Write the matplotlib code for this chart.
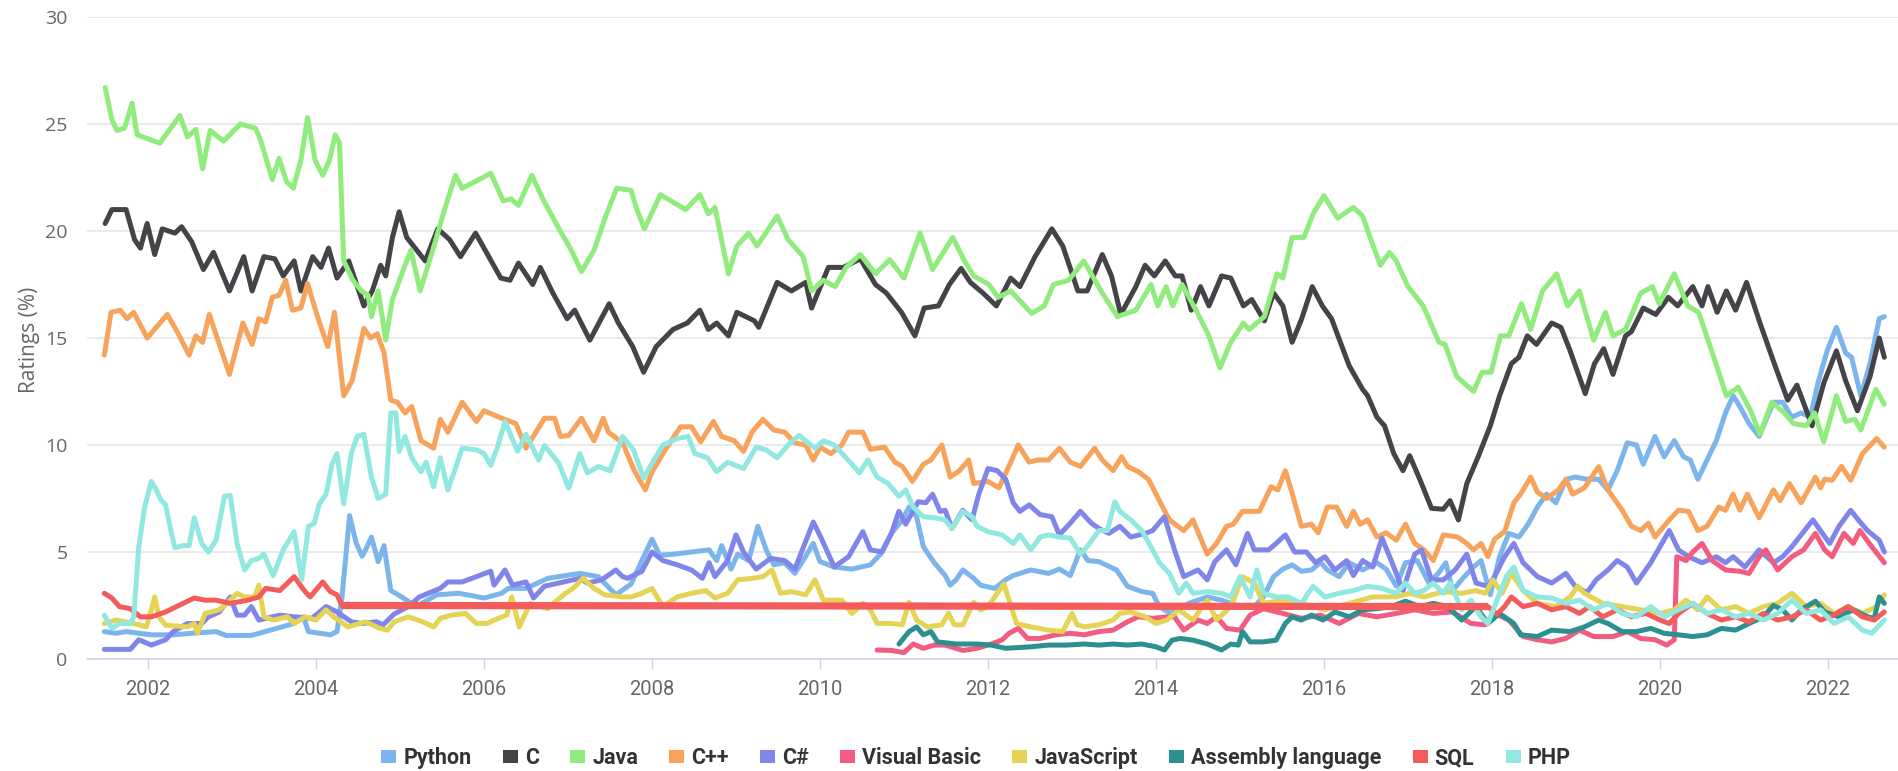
import matplotlib
matplotlib.use("Agg")
import matplotlib.pyplot as plt
from matplotlib import font_manager as fm
from matplotlib.patches import Patch
from matplotlib.textpath import TextPath

# TIOBE-style ratings (%) (decimal years)
PY_T = [2001.48, 2001.62, 2001.74, 2002.04, 2002.3, 2002.51, 2002.81, 2002.93, 2003.23, 2003.53, 2003.74, 2003.85,
        2003.91, 2004.17, 2004.25, 2004.31, 2004.4, 2004.48, 2004.55, 2004.59, 2004.66, 2004.74, 2004.81, 2004.89,
        2005.02, 2005.19, 2005.44, 2005.7, 2006.0, 2006.21, 2006.29, 2006.5, 2006.76, 2006.97, 2007.14, 2007.36,
        2007.57, 2007.75, 2007.88, 2008.0, 2008.09, 2008.26, 2008.47, 2008.68, 2008.77, 2008.83, 2008.94, 2009.02,
        2009.15, 2009.26, 2009.36, 2009.45, 2009.58, 2009.7, 2009.83, 2009.92, 2010.0, 2010.17, 2010.38, 2010.6,
        2010.72, 2010.85, 2010.98, 2011.06, 2011.15, 2011.23, 2011.36, 2011.49, 2011.55, 2011.62, 2011.7, 2011.83,
        2011.91, 2012.08, 2012.21, 2012.3, 2012.51, 2012.72, 2012.85, 2012.98, 2013.1, 2013.19, 2013.32, 2013.53,
        2013.66, 2013.83, 2013.96, 2014.04, 2014.17, 2014.39, 2014.61, 2014.78, 2015.0, 2015.17, 2015.28, 2015.4,
        2015.51, 2015.62, 2015.73, 2015.85, 2015.96, 2016.04, 2016.18, 2016.3, 2016.46, 2016.63, 2016.74, 2016.86,
        2016.97, 2017.11, 2017.25, 2017.36, 2017.45, 2017.53, 2017.67, 2017.78, 2017.87, 2017.98, 2018.09, 2018.2,
        2018.32, 2018.43, 2018.54, 2018.65, 2018.76, 2018.88, 2018.99, 2019.13, 2019.27, 2019.38, 2019.49, 2019.61,
        2019.72, 2019.8, 2019.94, 2020.05, 2020.17, 2020.28, 2020.36, 2020.45, 2020.56, 2020.67, 2020.78, 2020.87,
        2020.95, 2021.06, 2021.18, 2021.35, 2021.46, 2021.57, 2021.68, 2021.79, 2021.88, 2021.99, 2022.1, 2022.21,
        2022.28, 2022.39, 2022.5, 2022.61, 2022.67]
PY_V = [1.28, 1.2, 1.28, 1.13, 1.13, 1.2, 1.28, 1.1, 1.1, 1.43, 1.66, 1.97,
        1.28, 1.13, 1.28, 2.9, 6.7, 5.4, 4.8, 5.1, 5.7, 4.55, 5.3, 3.2,
        2.9, 2.45, 3.0, 3.07, 2.85, 3.07, 3.3, 3.3, 3.77, 3.9, 4.0, 3.85,
        3.0, 3.5, 4.6, 5.6, 4.85, 4.9, 5.0, 5.1, 4.6, 5.3, 4.2, 4.9,
        4.6, 6.2, 5.1, 4.4, 4.5, 4.0, 4.8, 5.4, 4.55, 4.3, 4.2, 4.4,
        4.9, 5.87, 6.5, 7.1, 6.65, 5.25, 4.5, 3.9, 3.45, 3.7, 4.16, 3.77,
        3.45, 3.3, 3.7, 3.9, 4.16, 4.0, 4.2, 3.9, 5.1, 4.6, 4.55, 4.16,
        3.4, 3.15, 3.07, 2.45, 2.13, 2.6, 2.9, 2.75, 2.45, 2.45, 2.9, 3.85,
        4.2, 4.4, 4.1, 4.16, 4.5, 4.16, 3.85, 4.5, 4.16, 4.5, 4.2, 3.4,
        4.5, 4.6, 3.55, 4.0, 4.5, 3.2, 3.85, 4.3, 4.6, 3.0, 4.78, 5.87,
        5.7, 6.3, 7.1, 7.7, 7.3, 8.4, 8.5, 8.4, 8.4, 7.9, 8.8, 10.1,
        10.0, 9.1, 10.4, 9.45, 10.2, 9.45, 9.3, 8.4, 9.3, 10.2, 11.5, 12.3,
        11.8, 11.0, 10.4, 12.0, 12.0, 11.3, 11.5, 11.3, 12.9, 14.4, 15.5, 14.3,
        14.1, 12.3, 13.8, 15.9, 16.0]

C_T = [2001.49, 2001.57, 2001.74, 2001.84, 2001.91, 2001.99, 2002.08, 2002.17, 2002.32, 2002.4, 2002.52, 2002.66,
       2002.78, 2002.97, 2003.14, 2003.24, 2003.38, 2003.51, 2003.61, 2003.74, 2003.82, 2003.96, 2004.06, 2004.15,
       2004.25, 2004.39, 2004.57, 2004.67, 2004.77, 2004.83, 2004.91, 2004.99, 2005.08, 2005.3, 2005.45, 2005.59,
       2005.72, 2005.9, 2006.1, 2006.2, 2006.31, 2006.41, 2006.58, 2006.67, 2006.82, 2006.99, 2007.08, 2007.26,
       2007.49, 2007.6, 2007.77, 2007.9, 2008.05, 2008.25, 2008.42, 2008.57, 2008.67, 2008.77, 2008.91, 2009.01,
       2009.22, 2009.27, 2009.49, 2009.66, 2009.83, 2009.9, 2010.1, 2010.28, 2010.48, 2010.66, 2010.79, 2010.97,
       2011.13, 2011.24, 2011.41, 2011.54, 2011.68, 2011.79, 2011.94, 2012.1, 2012.27, 2012.38, 2012.56, 2012.76,
       2012.89, 2013.07, 2013.18, 2013.36, 2013.47, 2013.58, 2013.76, 2013.87, 2013.98, 2014.11, 2014.23, 2014.31,
       2014.42, 2014.53, 2014.63, 2014.78, 2014.89, 2015.04, 2015.14, 2015.29, 2015.4, 2015.51, 2015.62, 2015.73,
       2015.86, 2015.98, 2016.09, 2016.3, 2016.46, 2016.52, 2016.63, 2016.72, 2016.83, 2016.94, 2017.02, 2017.14,
       2017.28, 2017.42, 2017.5, 2017.6, 2017.7, 2017.84, 2017.98, 2018.09, 2018.23, 2018.32, 2018.42, 2018.53,
       2018.71, 2018.82, 2018.93, 2019.11, 2019.22, 2019.33, 2019.44, 2019.59, 2019.66, 2019.8, 2019.95, 2020.1,
       2020.21, 2020.39, 2020.5, 2020.57, 2020.68, 2020.79, 2020.9, 2021.03, 2021.19, 2021.37, 2021.52, 2021.63,
       2021.81, 2021.95, 2022.1, 2022.21, 2022.35, 2022.5, 2022.61, 2022.67]
C_V = [20.35, 21.0, 21.0, 19.6, 19.2, 20.35, 18.9, 20.1, 19.9, 20.2, 19.5, 18.2,
       19.0, 17.2, 18.8, 17.2, 18.8, 18.7, 17.9, 18.6, 17.2, 18.8, 18.3, 19.2,
       17.8, 18.6, 16.5, 17.2, 18.4, 17.9, 19.7, 20.9, 19.7, 18.6, 20.1, 19.6,
       18.8, 19.9, 18.5, 17.8, 17.7, 18.5, 17.5, 18.3, 17.1, 15.9, 16.3, 14.9,
       16.6, 15.7, 14.6, 13.4, 14.6, 15.4, 15.7, 16.3, 15.4, 15.7, 15.1, 16.2,
       15.8, 15.5, 17.6, 17.2, 17.6, 16.4, 18.3, 18.3, 18.7, 17.5, 17.1, 16.2,
       15.1, 16.4, 16.5, 17.5, 18.25, 17.6, 17.1, 16.5, 17.8, 17.4, 18.8, 20.1,
       19.3, 17.2, 17.2, 18.9, 17.9, 16.1, 17.4, 18.4, 17.9, 18.6, 17.9, 17.9,
       16.3, 17.4, 16.5, 17.9, 17.8, 16.5, 16.8, 15.8, 17.1, 16.5, 14.8, 15.85,
       17.4, 16.5, 15.9, 13.7, 12.6, 12.3, 11.3, 10.9, 9.6, 8.8, 9.5, 8.4,
       7.04, 7.0, 7.4, 6.5, 8.2, 9.5, 10.9, 12.3, 13.8, 14.1, 15.1, 14.7,
       15.7, 15.5, 14.4, 12.4, 13.8, 14.5, 13.3, 15.1, 15.3, 16.4, 16.1, 16.9,
       16.5, 17.4, 16.5, 17.4, 16.2, 17.2, 16.3, 17.6, 15.7, 13.7, 12.1, 12.8,
       10.9, 12.9, 14.4, 13.0, 11.6, 13.2, 15.0, 14.1]

JAVA_T = [2001.49, 2001.57, 2001.63, 2001.72, 2001.81, 2001.87, 2002.14, 2002.38, 2002.47, 2002.57, 2002.65, 2002.74,
          2002.9, 2003.0, 2003.1, 2003.28, 2003.34, 2003.48, 2003.56, 2003.65, 2003.73, 2003.82, 2003.9, 2003.99,
          2004.08, 2004.16, 2004.23, 2004.28, 2004.33, 2004.44, 2004.54, 2004.62, 2004.66, 2004.74, 2004.83, 2004.91,
          2005.05, 2005.13, 2005.24, 2005.39, 2005.53, 2005.66, 2005.74, 2005.94, 2006.08, 2006.23, 2006.32, 2006.41,
          2006.57, 2006.7, 2006.9, 2007.04, 2007.16, 2007.31, 2007.45, 2007.58, 2007.75, 2007.82, 2007.91, 2008.1,
          2008.4, 2008.57, 2008.67, 2008.75, 2008.91, 2009.01, 2009.15, 2009.25, 2009.49, 2009.62, 2009.8, 2009.9,
          2010.04, 2010.18, 2010.31, 2010.48, 2010.66, 2010.83, 2011.0, 2011.19, 2011.34, 2011.58, 2011.72, 2011.83,
          2012.01, 2012.12, 2012.27, 2012.52, 2012.67, 2012.78, 2012.96, 2013.14, 2013.36, 2013.54, 2013.76, 2013.94,
          2014.02, 2014.12, 2014.2, 2014.31, 2014.49, 2014.63, 2014.76, 2014.89, 2015.04, 2015.11, 2015.29, 2015.44,
          2015.51, 2015.62, 2015.76, 2015.87, 2016.0, 2016.16, 2016.35, 2016.46, 2016.53, 2016.67, 2016.78, 2016.86,
          2017.0, 2017.18, 2017.37, 2017.44, 2017.58, 2017.78, 2017.88, 2017.99, 2018.1, 2018.2, 2018.35, 2018.46,
          2018.6, 2018.77, 2018.9, 2019.04, 2019.21, 2019.35, 2019.44, 2019.59, 2019.77, 2019.91, 2019.99, 2020.17,
          2020.33, 2020.46, 2020.64, 2020.79, 2020.93, 2021.08, 2021.19, 2021.33, 2021.48, 2021.59, 2021.74, 2021.84,
          2021.95, 2022.1, 2022.21, 2022.32, 2022.39, 2022.57, 2022.67]
JAVA_V = [26.7, 25.2, 24.7, 24.8, 25.97, 24.5, 24.1, 25.4, 24.4, 24.75, 22.9, 24.7,
          24.2, 24.6, 25.0, 24.8, 24.25, 22.4, 23.4, 22.3, 22.0, 23.3, 25.3, 23.3,
          22.6, 23.3, 24.5, 24.1, 18.6, 17.7, 17.2, 17.0, 16.0, 17.2, 14.9, 16.8,
          18.3, 19.1, 17.2, 19.1, 21.0, 22.6, 22.0, 22.4, 22.7, 21.4, 21.5, 21.2,
          22.6, 21.5, 20.05, 19.1, 18.1, 19.1, 20.7, 22.0, 21.9, 21.0, 20.1, 21.7,
          21.0, 21.7, 20.8, 21.1, 18.0, 19.3, 19.9, 19.3, 20.7, 19.6, 18.8, 17.2,
          17.7, 17.4, 18.3, 18.9, 18.0, 18.66, 17.8, 19.9, 18.2, 19.7, 18.6, 17.9,
          17.5, 16.9, 17.2, 16.15, 16.5, 17.5, 17.7, 18.6, 17.1, 16.0, 16.3, 17.5,
          16.5, 17.4, 16.5, 17.5, 16.2, 15.1, 13.6, 14.8, 15.7, 15.4, 16.0, 18.0,
          17.8, 19.7, 19.7, 20.8, 21.65, 20.6, 21.1, 20.7, 19.9, 18.4, 19.0, 18.6,
          17.4, 16.5, 14.8, 14.7, 13.2, 12.5, 13.4, 13.4, 15.1, 15.1, 16.6, 15.4,
          17.2, 18.0, 16.5, 17.2, 14.9, 16.2, 15.1, 15.4, 17.1, 17.4, 16.6, 18.0,
          16.5, 16.2, 14.1, 12.3, 12.7, 11.6, 10.5, 12.0, 11.5, 11.0, 10.9, 11.5,
          10.15, 12.3, 11.1, 11.2, 10.7, 12.6, 11.9]

CPP_T = [2001.48, 2001.56, 2001.67, 2001.75, 2001.83, 2001.99, 2002.23, 2002.36, 2002.49, 2002.57, 2002.65, 2002.73,
         2002.97, 2003.13, 2003.24, 2003.32, 2003.4, 2003.48, 2003.56, 2003.64, 2003.72, 2003.82, 2003.9, 2004.01,
         2004.14, 2004.22, 2004.33, 2004.43, 2004.57, 2004.65, 2004.73, 2004.81, 2004.89, 2004.97, 2005.06, 2005.14,
         2005.25, 2005.4, 2005.48, 2005.57, 2005.74, 2005.91, 2006.0, 2006.21, 2006.38, 2006.5, 2006.72, 2006.84,
         2006.91, 2007.01, 2007.16, 2007.31, 2007.42, 2007.48, 2007.65, 2007.79, 2007.92, 2008.0, 2008.17, 2008.34,
         2008.47, 2008.58, 2008.73, 2008.83, 2008.98, 2009.09, 2009.19, 2009.32, 2009.45, 2009.58, 2009.7, 2009.83,
         2009.92, 2010.0, 2010.13, 2010.26, 2010.34, 2010.51, 2010.6, 2010.77, 2010.89, 2010.98, 2011.1, 2011.23,
         2011.32, 2011.45, 2011.55, 2011.66, 2011.77, 2011.83, 2012.0, 2012.13, 2012.26, 2012.36, 2012.49, 2012.59,
         2012.72, 2012.85, 2012.98, 2013.1, 2013.27, 2013.36, 2013.49, 2013.59, 2013.66, 2013.79, 2013.91, 2014.04,
         2014.16, 2014.33, 2014.44, 2014.61, 2014.72, 2014.84, 2014.92, 2015.03, 2015.23, 2015.37, 2015.45, 2015.54,
         2015.62, 2015.73, 2015.85, 2015.93, 2016.04, 2016.15, 2016.27, 2016.35, 2016.43, 2016.52, 2016.63, 2016.74,
         2016.86, 2016.97, 2017.08, 2017.19, 2017.3, 2017.42, 2017.59, 2017.7, 2017.78, 2017.87, 2017.95, 2018.03,
         2018.15, 2018.26, 2018.34, 2018.46, 2018.54, 2018.65, 2018.79, 2018.88, 2018.96, 2019.1, 2019.27, 2019.38,
         2019.55, 2019.66, 2019.77, 2019.86, 2019.94, 2020.11, 2020.22, 2020.34, 2020.45, 2020.56, 2020.7, 2020.78,
         2020.87, 2020.95, 2021.04, 2021.18, 2021.35, 2021.43, 2021.54, 2021.68, 2021.85, 2021.91, 2021.96, 2022.05,
         2022.16, 2022.27, 2022.41, 2022.58, 2022.67]
CPP_V = [14.2, 16.2, 16.3, 15.9, 16.2, 15.0, 16.1, 15.2, 14.2, 15.1, 14.8, 16.1,
         13.3, 15.7, 14.7, 15.9, 15.75, 16.9, 17.0, 17.7, 16.3, 16.4, 17.55, 16.1,
         14.6, 16.2, 12.3, 13.0, 15.45, 15.0, 15.2, 14.3, 12.1, 12.0, 11.5, 11.8,
         10.2, 9.85, 11.2, 10.6, 12.0, 11.1, 11.6, 11.25, 11.0, 9.85, 11.25, 11.25,
         10.4, 10.45, 11.25, 10.2, 11.25, 10.6, 10.1, 8.8, 7.9, 8.75, 9.85, 10.85,
         10.85, 10.15, 11.1, 10.4, 10.2, 9.7, 10.6, 11.2, 10.7, 10.6, 10.1, 10.0,
         9.3, 9.9, 9.6, 10.0, 10.6, 10.6, 9.8, 9.9, 9.2, 9.0, 8.3, 9.1,
         9.3, 10.0, 8.5, 8.8, 9.3, 8.2, 8.3, 8.0, 9.1, 10.0, 9.2, 9.3,
         9.3, 9.85, 9.2, 9.0, 9.85, 9.3, 8.8, 9.45, 9.0, 8.75, 8.4, 7.4,
         6.5, 6.0, 6.5, 4.9, 5.4, 6.2, 6.3, 6.9, 6.9, 8.05, 7.9, 8.8,
         7.75, 6.2, 6.3, 5.9, 7.1, 7.1, 6.2, 6.9, 6.3, 6.5, 5.7, 5.9,
         5.55, 6.3, 5.4, 5.1, 4.6, 5.8, 5.7, 5.4, 5.1, 5.4, 4.78, 5.6,
         5.95, 7.3, 7.7, 8.5, 7.8, 7.5, 7.9, 8.4, 7.7, 8.0, 8.99, 7.9,
         6.95, 6.2, 6.0, 6.35, 5.7, 6.5, 6.95, 6.9, 6.0, 6.2, 7.1, 6.95,
         7.7, 6.95, 7.7, 6.6, 7.9, 7.4, 8.2, 7.3, 8.5, 8.0, 8.4, 8.35,
         9.0, 8.35, 9.6, 10.3, 9.9]

CS_T = [2001.48, 2001.79, 2001.89, 2002.04, 2002.21, 2002.3, 2002.47, 2002.64, 2002.72, 2002.85, 2002.98, 2003.06,
        2003.15, 2003.23, 2003.32, 2003.57, 2003.74, 2003.95, 2004.12, 2004.25, 2004.42, 2004.55, 2004.72, 2004.8,
        2004.93, 2005.1, 2005.23, 2005.48, 2005.57, 2005.74, 2005.91, 2006.08, 2006.12, 2006.25, 2006.34, 2006.5,
        2006.59, 2006.72, 2006.89, 2007.06, 2007.14, 2007.23, 2007.4, 2007.57, 2007.65, 2007.71, 2007.88, 2008.0,
        2008.13, 2008.3, 2008.47, 2008.6, 2008.68, 2008.75, 2008.9, 2009.0, 2009.09, 2009.24, 2009.41, 2009.58,
        2009.7, 2009.79, 2009.92, 2010.02, 2010.17, 2010.34, 2010.51, 2010.6, 2010.74, 2010.85, 2010.94, 2011.02,
        2011.17, 2011.26, 2011.34, 2011.43, 2011.49, 2011.57, 2011.7, 2011.81, 2011.89, 2012.0, 2012.11, 2012.21,
        2012.3, 2012.38, 2012.49, 2012.62, 2012.76, 2012.85, 2012.98, 2013.1, 2013.23, 2013.32, 2013.44, 2013.57,
        2013.7, 2013.87, 2013.96, 2014.1, 2014.22, 2014.33, 2014.5, 2014.61, 2014.7, 2014.84, 2014.95, 2015.09,
        2015.17, 2015.34, 2015.43, 2015.54, 2015.65, 2015.79, 2015.9, 2016.01, 2016.13, 2016.27, 2016.35, 2016.46,
        2016.58, 2016.69, 2016.8, 2016.94, 2017.08, 2017.16, 2017.28, 2017.42, 2017.56, 2017.7, 2017.81, 2017.95,
        2018.03, 2018.15, 2018.26, 2018.37, 2018.54, 2018.71, 2018.88, 2018.99, 2019.13, 2019.24, 2019.38, 2019.49,
        2019.61, 2019.72, 2019.89, 2020.0, 2020.11, 2020.22, 2020.34, 2020.5, 2020.67, 2020.78, 2020.87, 2021.01,
        2021.18, 2021.35, 2021.46, 2021.57, 2021.71, 2021.82, 2021.91, 2022.02, 2022.13, 2022.27, 2022.36, 2022.47,
        2022.61, 2022.67]
CS_V = [0.45, 0.45, 0.9, 0.65, 0.9, 1.28, 1.66, 1.66, 1.97, 2.2, 2.9, 2.05,
        2.05, 2.45, 1.82, 2.05, 1.97, 1.9, 2.45, 2.2, 1.74, 1.66, 1.74, 1.6,
        2.1, 2.45, 2.9, 3.3, 3.6, 3.6, 3.85, 4.1, 3.45, 4.16, 3.45, 3.6,
        2.85, 3.4, 3.55, 3.7, 3.77, 3.55, 3.7, 4.16, 3.85, 3.77, 4.1, 5.0,
        4.6, 4.4, 4.16, 3.77, 4.5, 3.85, 4.6, 5.8, 5.0, 4.2, 4.7, 4.6,
        4.2, 5.1, 6.4, 5.6, 4.3, 4.78, 5.95, 5.1, 5.0, 5.87, 6.9, 6.3,
        7.35, 7.3, 7.7, 6.9, 6.95, 6.1, 6.95, 6.5, 7.7, 8.9, 8.8, 8.4,
        7.3, 6.9, 7.2, 6.75, 6.65, 5.8, 6.35, 6.9, 6.35, 6.1, 5.87, 6.2,
        5.7, 5.87, 6.0, 6.65, 5.1, 3.85, 4.16, 3.7, 4.55, 5.1, 4.4, 5.87,
        5.1, 5.1, 5.4, 5.8, 5.0, 5.0, 4.5, 4.78, 4.16, 4.6, 3.9, 4.6,
        4.3, 5.65, 4.6, 3.2, 4.9, 5.1, 3.7, 3.7, 4.16, 4.9, 3.55, 3.4,
        3.85, 4.78, 5.4, 4.5, 3.85, 3.55, 4.0, 3.4, 3.1, 3.7, 4.16, 4.6,
        4.3, 3.55, 4.5, 5.25, 6.0, 5.1, 4.78, 4.5, 4.78, 4.5, 4.78, 4.3,
        5.1, 4.5, 4.78, 5.25, 5.95, 6.5, 6.0, 5.4, 6.2, 6.95, 6.5, 6.0,
        5.55, 5.0]

VB_T = [2010.68, 2010.85, 2011.0, 2011.11, 2011.23, 2011.36, 2011.49, 2011.7, 2011.87, 2012.04, 2012.17, 2012.25,
        2012.36, 2012.47, 2012.62, 2012.81, 2012.98, 2013.15, 2013.32, 2013.49, 2013.66, 2013.79, 2013.96, 2014.13,
        2014.22, 2014.33, 2014.5, 2014.61, 2014.72, 2014.84, 2015.0, 2015.12, 2015.28, 2015.51, 2015.73, 2015.96,
        2016.18, 2016.41, 2016.63, 2016.86, 2017.08, 2017.3, 2017.53, 2017.75, 2017.92, 2018.03, 2018.2, 2018.37,
        2018.54, 2018.71, 2018.88, 2019.04, 2019.21, 2019.44, 2019.61, 2019.77, 2019.94, 2020.08, 2020.17, 2020.2,
        2020.31, 2020.39, 2020.5, 2020.62, 2020.78, 2020.95, 2021.06, 2021.18, 2021.26, 2021.4, 2021.57, 2021.71,
        2021.85, 2021.96, 2022.05, 2022.19, 2022.3, 2022.38, 2022.52, 2022.67]
VB_V = [0.42, 0.4, 0.3, 0.7, 0.5, 0.65, 0.65, 0.4, 0.5, 0.7, 0.9, 1.2,
        1.43, 0.96, 0.96, 1.13, 1.2, 1.13, 1.28, 1.35, 1.74, 1.97, 1.9, 1.97,
        1.97, 1.35, 1.82, 1.66, 1.97, 1.43, 1.35, 2.05, 2.35, 2.13, 1.9, 2.05,
        1.66, 2.13, 1.97, 2.13, 2.3, 2.13, 2.2, 1.66, 1.6, 2.13, 1.82, 1.05,
        0.9, 0.8, 0.96, 1.35, 1.05, 1.05, 1.28, 0.96, 0.9, 0.65, 0.9, 4.78,
        4.6, 5.0, 5.4, 4.6, 4.16, 4.1, 4.0, 4.78, 5.1, 4.16, 4.78, 5.1,
        5.87, 5.1, 4.78, 5.87, 5.4, 6.0, 5.25, 4.5]

JS_T = [2001.48, 2001.62, 2001.83, 2001.98, 2002.04, 2002.08, 2002.13, 2002.21, 2002.47, 2002.55, 2002.59, 2002.68,
        2002.85, 2002.98, 2003.06, 2003.15, 2003.27, 2003.32, 2003.38, 2003.49, 2003.66, 2003.74, 2003.87, 2004.0,
        2004.12, 2004.21, 2004.38, 2004.59, 2004.76, 2004.85, 2004.93, 2005.1, 2005.27, 2005.4, 2005.48, 2005.61,
        2005.78, 2005.91, 2006.04, 2006.12, 2006.27, 2006.33, 2006.42, 2006.55, 2006.76, 2006.84, 2006.97, 2007.06,
        2007.18, 2007.31, 2007.44, 2007.65, 2007.75, 2007.88, 2008.0, 2008.13, 2008.3, 2008.47, 2008.64, 2008.75,
        2008.9, 2009.02, 2009.19, 2009.32, 2009.43, 2009.53, 2009.66, 2009.83, 2009.94, 2010.04, 2010.26, 2010.38,
        2010.51, 2010.6, 2010.68, 2010.85, 2010.98, 2011.06, 2011.15, 2011.28, 2011.45, 2011.53, 2011.6, 2011.7,
        2011.83, 2011.91, 2012.0, 2012.08, 2012.19, 2012.34, 2012.51, 2012.72, 2012.89, 2013.0, 2013.06, 2013.15,
        2013.32, 2013.49, 2013.57, 2013.7, 2013.87, 2014.0, 2014.13, 2014.27, 2014.44, 2014.61, 2014.72, 2014.89,
        2015.03, 2015.17, 2015.28, 2015.51, 2015.73, 2016.01, 2016.3, 2016.58, 2016.86, 2017.02, 2017.19, 2017.42,
        2017.64, 2017.81, 2017.92, 2018.01, 2018.12, 2018.23, 2018.37, 2018.54, 2018.76, 2018.93, 2019.02, 2019.1,
        2019.32, 2019.55, 2019.77, 2020.0, 2020.17, 2020.31, 2020.45, 2020.56, 2020.73, 2020.9, 2021.06, 2021.23,
        2021.4, 2021.57, 2021.74, 2021.91, 2022.07, 2022.24, 2022.41, 2022.58, 2022.67]
JS_V = [1.66, 1.82, 1.66, 1.5, 2.3, 2.9, 1.97, 1.58, 1.5, 1.66, 1.2, 2.13,
        2.3, 2.75, 3.07, 2.9, 2.9, 3.45, 1.97, 1.82, 1.97, 1.66, 1.97, 1.82,
        2.3, 1.97, 1.5, 1.74, 1.43, 1.35, 1.74, 1.97, 1.74, 1.5, 1.9, 2.05,
        2.13, 1.66, 1.66, 1.82, 2.05, 2.9, 1.5, 2.6, 2.35, 2.65, 3.07, 3.3,
        3.77, 3.3, 3.0, 2.9, 2.9, 3.07, 3.3, 2.45, 2.9, 3.07, 3.2, 2.85,
        3.07, 3.7, 3.77, 3.85, 4.16, 3.07, 3.15, 3.0, 3.7, 2.75, 2.75, 2.13,
        2.6, 2.3, 1.66, 1.66, 1.6, 2.65, 1.82, 1.5, 1.6, 2.13, 1.6, 1.6,
        2.65, 2.3, 2.45, 2.9, 3.5, 1.66, 1.5, 1.35, 1.28, 2.13, 1.6, 1.5,
        1.6, 1.82, 2.13, 2.2, 1.97, 1.66, 1.82, 2.3, 1.82, 2.75, 1.82, 2.45,
        3.85, 3.55, 2.6, 2.75, 2.6, 2.3, 2.6, 2.9, 2.9, 3.07, 2.9, 3.15,
        3.07, 3.2, 3.07, 3.7, 3.07, 4.0, 3.2, 2.6, 2.45, 2.9, 3.4, 3.07,
        2.6, 2.45, 2.3, 2.13, 2.3, 2.75, 2.3, 2.9, 2.3, 2.45, 2.13, 2.45,
        2.6, 3.07, 2.45, 2.6, 2.13, 2.45, 2.13, 2.45, 3.0]

ASM_T = [2010.94, 2011.06, 2011.15, 2011.23, 2011.32, 2011.4, 2011.62, 2011.87, 2012.04, 2012.21, 2012.51, 2012.72,
         2012.93, 2013.15, 2013.32, 2013.49, 2013.66, 2013.83, 2014.0, 2014.1, 2014.19, 2014.29, 2014.44, 2014.61,
         2014.78, 2014.89, 2014.98, 2015.03, 2015.12, 2015.28, 2015.43, 2015.54, 2015.62, 2015.73, 2015.85, 2015.99,
         2016.13, 2016.3, 2016.46, 2016.63, 2016.8, 2016.97, 2017.14, 2017.3, 2017.47, 2017.64, 2017.81, 2017.95,
         2018.09, 2018.26, 2018.34, 2018.54, 2018.71, 2018.93, 2019.1, 2019.27, 2019.38, 2019.55, 2019.72, 2019.89,
         2020.05, 2020.22, 2020.39, 2020.56, 2020.73, 2020.9, 2021.06, 2021.23, 2021.35, 2021.46, 2021.57, 2021.68,
         2021.85, 2021.96, 2022.13, 2022.3, 2022.47, 2022.55, 2022.61, 2022.67]
ASM_V = [0.7, 1.28, 1.5, 1.13, 1.28, 0.8, 0.7, 0.7, 0.65, 0.5, 0.57, 0.65,
         0.65, 0.7, 0.65, 0.7, 0.65, 0.7, 0.57, 0.42, 0.88, 0.96, 0.88, 0.7,
         0.42, 0.7, 0.65, 1.28, 0.8, 0.8, 0.88, 1.66, 1.97, 1.82, 2.05, 1.82,
         2.2, 1.97, 2.3, 2.35, 2.45, 2.7, 2.45, 2.6, 2.45, 1.82, 2.45, 1.66,
         2.13, 1.66, 1.13, 1.05, 1.35, 1.28, 1.5, 1.82, 1.66, 1.28, 1.28, 1.43,
         1.2, 1.13, 1.05, 1.13, 1.43, 1.35, 1.66, 1.97, 2.5, 2.3, 1.82, 2.3,
         2.7, 2.2, 1.97, 2.3, 1.97, 1.9, 2.9, 2.6]

# SQL has no ratings between mid-2004 and 2018: the line joins the two ends
SQL_T = [2001.48, 2001.57, 2001.66, 2001.79, 2001.91, 2002.04, 2002.21, 2002.34, 2002.55, 2002.68, 2002.81, 2002.98,
         2003.19, 2003.32, 2003.4, 2003.57, 2003.74, 2003.87, 2003.93, 2004.08, 2004.17, 2004.25, 2004.31,
         2017.95, 2018.06, 2018.15, 2018.23, 2018.37, 2018.54, 2018.71, 2018.88, 2019.04, 2019.16, 2019.32, 2019.49,
         2019.66, 2019.83, 2020.0, 2020.11, 2020.22, 2020.39, 2020.56, 2020.73, 2020.9, 2021.06, 2021.23, 2021.4,
         2021.57, 2021.74, 2021.91, 2022.07, 2022.24, 2022.41, 2022.55, 2022.67]
SQL_V = [3.07, 2.85, 2.45, 2.35, 1.97, 1.97, 2.2, 2.45, 2.85, 2.75, 2.75, 2.6,
         2.75, 2.9, 3.3, 3.2, 3.85, 3.15, 2.9, 3.6, 3.15, 3.0, 2.5,
         2.45, 2.1, 2.45, 2.9, 2.45, 2.6, 2.3, 2.45, 2.13, 2.45, 1.97, 2.3,
         1.97, 2.13, 1.82, 1.66, 2.13, 2.6, 2.13, 1.82, 1.97, 1.74, 2.13, 1.82,
         1.97, 2.3, 1.82, 2.05, 2.45, 1.97, 1.82, 2.2]
SQL_GAP = (22, 23)  # indices of the points on either side of the missing years

PHP_T = [2001.48, 2001.57, 2001.66, 2001.79, 2001.83, 2001.89, 2001.96, 2002.04, 2002.1, 2002.15, 2002.21, 2002.27,
         2002.32, 2002.42, 2002.49, 2002.55, 2002.64, 2002.72, 2002.81, 2002.91, 2002.98, 2003.06, 2003.15, 2003.23,
         2003.32, 2003.38, 2003.49, 2003.61, 2003.74, 2003.83, 2003.91, 2003.98, 2004.04, 2004.12, 2004.19, 2004.25,
         2004.33, 2004.42, 2004.49, 2004.57, 2004.66, 2004.74, 2004.83, 2004.89, 2004.95, 2004.99, 2005.06, 2005.14,
         2005.25, 2005.31, 2005.4, 2005.48, 2005.57, 2005.65, 2005.74, 2005.91, 2006.0, 2006.08, 2006.16, 2006.25,
         2006.4, 2006.5, 2006.65, 2006.72, 2006.89, 2007.01, 2007.14, 2007.23, 2007.36, 2007.5, 2007.65, 2007.78,
         2007.9, 2008.0, 2008.13, 2008.3, 2008.43, 2008.51, 2008.66, 2008.77, 2008.9, 2009.09, 2009.24, 2009.36,
         2009.49, 2009.62, 2009.75, 2009.83, 2009.94, 2010.04, 2010.17, 2010.3, 2010.47, 2010.57, 2010.68, 2010.81,
         2010.94, 2011.02, 2011.11, 2011.23, 2011.36, 2011.49, 2011.57, 2011.7, 2011.81, 2011.87, 2012.0, 2012.17,
         2012.3, 2012.38, 2012.51, 2012.62, 2012.72, 2012.85, 2012.98, 2013.1, 2013.19, 2013.32, 2013.42, 2013.51,
         2013.57, 2013.7, 2013.83, 2013.96, 2014.04, 2014.16, 2014.27, 2014.36, 2014.44, 2014.61, 2014.78, 2014.89,
         2015.0, 2015.12, 2015.2, 2015.28, 2015.43, 2015.57, 2015.73, 2015.87, 2016.01, 2016.18, 2016.35, 2016.52,
         2016.69, 2016.86, 2016.97, 2017.08, 2017.19, 2017.3, 2017.42, 2017.5, 2017.64, 2017.75, 2017.87, 2017.95,
         2018.06, 2018.17, 2018.26, 2018.37, 2018.54, 2018.71, 2018.88, 2019.04, 2019.21, 2019.38, 2019.55, 2019.72,
         2019.89, 2020.05, 2020.22, 2020.39, 2020.56, 2020.73, 2020.9, 2021.06, 2021.23, 2021.4, 2021.57, 2021.74,
         2021.91, 2022.07, 2022.24, 2022.41, 2022.52, 2022.67]
PHP_V = [2.05, 1.43, 1.66, 1.66, 1.97, 5.25, 7.1, 8.3, 7.9, 7.45, 7.2, 6.05,
         5.2, 5.3, 5.3, 6.6, 5.4, 5.0, 5.55, 7.6, 7.65, 5.4, 4.16, 4.6,
         4.7, 4.9, 3.9, 5.1, 5.95, 3.7, 6.2, 6.35, 7.25, 7.7, 9.1, 9.6,
         7.25, 9.6, 10.4, 10.5, 8.5, 7.5, 7.7, 11.5, 11.5, 9.7, 10.4, 9.4,
         8.75, 9.2, 8.05, 9.4, 7.9, 8.8, 9.85, 9.77, 9.6, 9.05, 9.9, 11.1,
         9.7, 10.5, 9.3, 9.98, 9.15, 7.98, 9.6, 8.7, 8.99, 8.8, 10.4, 9.77,
         8.45, 9.15, 10.0, 10.3, 10.4, 9.6, 9.4, 8.75, 9.2, 8.9, 9.9, 9.77,
         9.4, 10.0, 10.45, 10.2, 9.85, 10.2, 10.0, 9.45, 8.7, 9.3, 8.5, 8.2,
         7.6, 7.9, 7.1, 6.65, 6.6, 6.5, 6.1, 6.9, 6.65, 6.2, 5.95, 5.8,
         5.4, 5.8, 5.1, 5.7, 5.8, 5.7, 5.65, 4.9, 5.3, 6.0, 6.0, 7.35,
         6.9, 6.5, 6.0, 5.1, 4.5, 4.0, 3.07, 3.55, 3.07, 3.15, 3.07, 2.9,
         3.85, 2.9, 4.16, 3.07, 2.9, 2.9, 2.6, 3.4, 2.9, 3.07, 3.2, 3.4,
         3.3, 3.07, 3.55, 3.07, 3.2, 3.55, 3.07, 3.55, 2.3, 2.75, 1.97, 1.66,
         2.75, 3.85, 4.3, 3.2, 2.9, 2.85, 2.6, 2.75, 2.3, 2.6, 2.13, 1.97,
         2.45, 1.97, 2.3, 2.6, 2.13, 2.3, 1.97, 2.13, 1.82, 2.13, 2.75, 2.13,
         2.3, 1.66, 1.97, 1.35, 1.2, 1.82]

NAMES = ["Python", "C", "Java", "C++", "C#", "Visual Basic", "JavaScript", "Assembly language", "SQL", "PHP"]
COLORS = ["#7cb5ec", "#434348", "#90ed7d", "#f7a35c", "#8085e9",
          "#f15c80", "#e4d354", "#2b908f", "#f45b5b", "#91e8e1"]
SERIES = [(PY_T, PY_V), (C_T, C_V), (JAVA_T, JAVA_V), (CPP_T, CPP_V), (CS_T, CS_V),
          (VB_T, VB_V), (JS_T, JS_V), (ASM_T, ASM_V), (SQL_T, SQL_V), (PHP_T, PHP_V)]
YEARS = list(range(2002, 2023, 2))

GREY = "#666666"
DPI = 100
FAMILY = ["Roboto", "DejaVu Sans"]


def text_px(prop, text):
    """Ink width of a string in pixels at the font's current size."""
    return TextPath((0, 0), text, prop=prop).get_extents().width * DPI / 72


def main() -> None:
    fig = plt.figure(figsize=(18.99, 7.71), dpi=DPI)
    ax = fig.add_axes([87 / 1899, 112 / 771, 1812 / 1899, 642 / 771])

    for (t, v), c in zip(SERIES, COLORS):
        ax.plot(t, v, color=c, lw=3.6, solid_joinstyle="round", solid_capstyle="round")
    # the joining stretch of SQL looks heavier in the original
    g0, g1 = SQL_GAP
    ax.plot(SQL_T[g0:g1 + 1], SQL_V[g0:g1 + 1], color=COLORS[8], lw=5.2, solid_capstyle="butt")

    ax.set_xlim(2001.274, 2022.845)
    ax.set_ylim(0, 30)
    ax.set_yticks(range(0, 31, 5))
    ax.set_xticks(YEARS)
    ax.set_xticklabels([str(y) for y in YEARS], family=FAMILY, fontsize=14.5, color=GREY)
    ax.set_yticklabels([str(v) for v in range(0, 31, 5)], family=["Open Sans", "DejaVu Sans"],
                       fontsize=14, color=GREY)
    ax.tick_params(axis="x", length=7, width=1, color="#ccd6eb", pad=8)
    ax.tick_params(axis="y", length=0, pad=14)
    ax.grid(axis="y", color="#e6e6e6", lw=1.2, zorder=0)
    ax.set_axisbelow(True)
    for side in ("top", "right", "left"):
        ax.spines[side].set_visible(False)
    ax.spines["bottom"].set_color("#ccd6eb")
    ax.spines["bottom"].set_linewidth(1.2)

    fig.text(30 / 1899, 1 - 340 / 771, "Ratings (%)", rotation=90, ha="center", va="center",
             family=["Open Sans", "DejaVu Sans"], fontsize=15, color=GREY)

    # legend: bold labels, spacing chosen so the row spans the same width as the original
    leg_size = 15.5
    leg_prop = fm.FontProperties(family=FAMILY, weight="bold", size=leg_size)
    em = leg_size * DPI / 72
    handle_px, pad_px, row_px = 15, 7, 1176
    used = sum(handle_px + pad_px + text_px(leg_prop, n) for n in NAMES)
    gap_px = max((row_px - used) / (len(NAMES) - 1), 12)
    handles = [Patch(facecolor=c, edgecolor="none") for c in COLORS]
    fig.legend(handles, NAMES, loc="center", bbox_to_anchor=(976 / 1899, 1 - 758 / 771), ncol=10,
               frameon=False, prop=leg_prop, labelcolor="#333333",
               handlelength=handle_px / em, handleheight=13 / em, handletextpad=pad_px / em,
               columnspacing=gap_px / em)

    fig.savefig("out.png", dpi=DPI)


if __name__ == "__main__":
    main()
